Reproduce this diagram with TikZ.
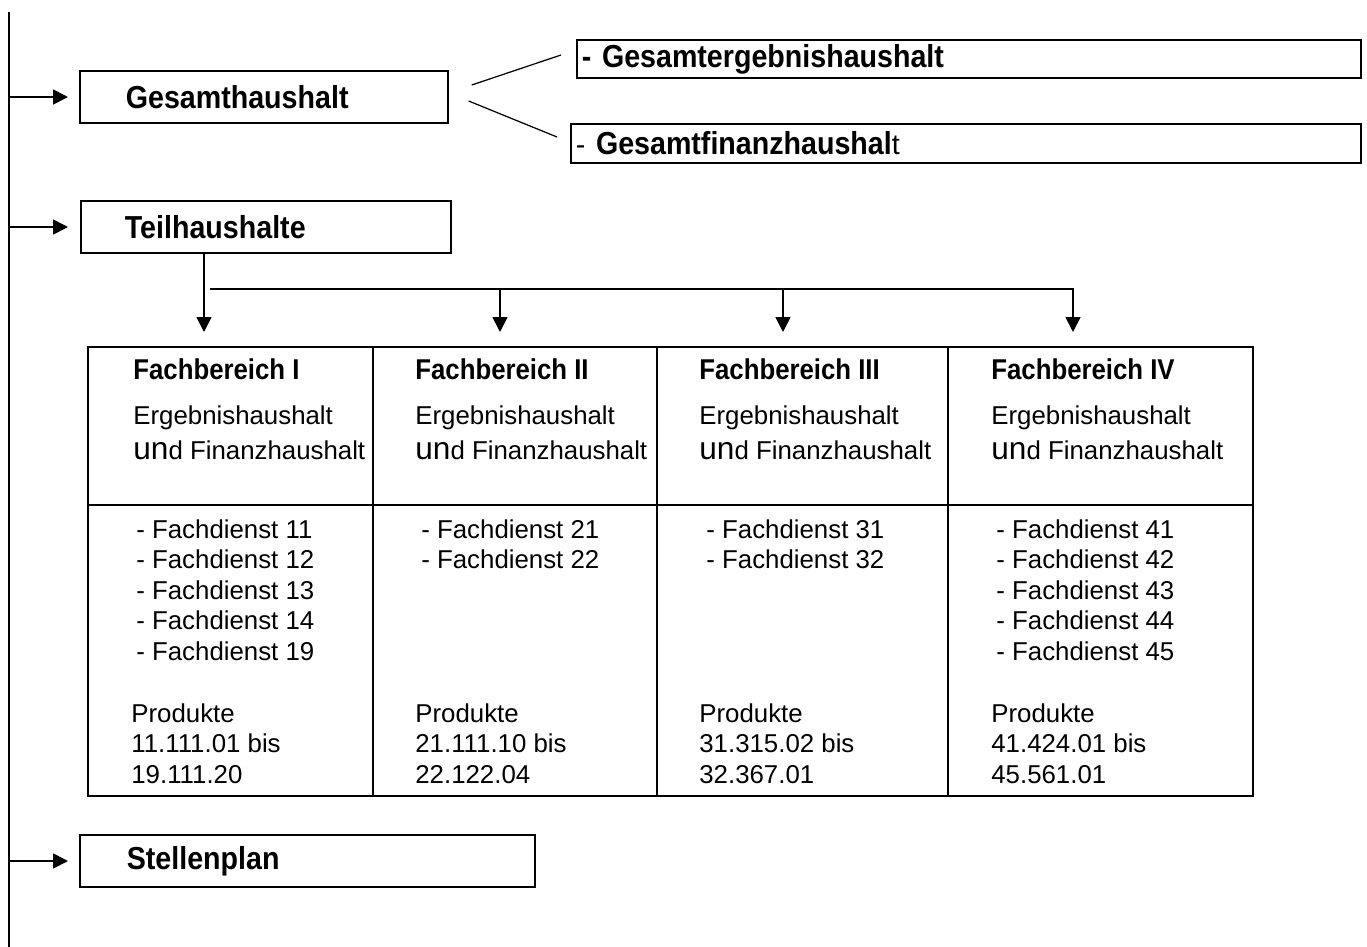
\documentclass[tikz,border=0pt]{standalone}
\usepackage{fontspec}
\setmainfont{Liberation Sans}[BoldFeatures={FakeStretch=0.9}]
\usetikzlibrary{arrows.meta}

\tikzset{
	kasten/.style={draw, line width=1pt, anchor=west, inner xsep=0pt, inner ysep=0pt, align=left, font=\bfseries\fontsize{18.1}{21}\selectfont},
	pfeil/.style={-{Triangle[length=0.3cm,width=0.3cm]}, line width=1pt},
	zelle/.style={anchor=base west, inner sep=0pt, align=left, font=\fontsize{14.7}{17.3}\selectfont},
}
\newcommand{\grossun}{{\fontsize{18}{17.3}\selectfont un}}

\begin{document}
\begin{tikzpicture}[x=0.02cm,y=-0.02cm]
	\useasboundingbox (0,0) rectangle (1367,947);
	
	% linke Leiste
	\coordinate (oben) at (9,12);
	\coordinate (unten) at (9,947);
	\draw[line width=1.1pt] (oben) -- (unten);
	
	% Kaesten
	\node[kasten, text width=7.36cm, minimum height=1.04cm] (gesamt) at (79,97) {\hspace*{0.92cm}Gesamthaushalt};
	\node[kasten, text width=7.4cm, minimum height=1.04cm] (teil) at (80,227) {\hspace*{0.88cm}Teilhaushalte};
	\node[kasten, text width=9.1cm, minimum height=1.04cm] (stellen) at (79,861) {\hspace*{0.94cm}Stellenplan};
	
	\node[kasten, text width=15.68cm, minimum height=0.76cm] (ergebnis) at (576,59) {\hspace*{0.1cm}- Gesamtergebnishaushalt};
	\node[kasten, text width=15.8cm, minimum height=0.78cm] (finanz) at (570,143.5) {\hspace*{0.1cm}{\mdseries\fontsize{16.3}{19}\selectfont -} Gesamtfinanzhaushal{\mdseries\fontsize{16.3}{19}\selectfont t}};
	
	\draw[pfeil] (gesamt.west -| oben) -- ([xshift=-0.22cm]gesamt.west);
	\draw[pfeil] (teil.west -| oben) -- ([xshift=-0.24cm]teil.west);
	\draw[pfeil] (stellen.west -| oben) -- ([xshift=-0.22cm]stellen.west);
	
	\draw[line width=0.7pt] ([shift={(23,-12)}]gesamt.east) -- ([shift={(-15,-4)}]ergebnis.west);
	\draw[line width=0.7pt] ([shift={(20,4)}]gesamt.east) -- ([shift={(-13,-6.5)}]finanz.west);
	
	% Verteilung auf die Fachbereiche
	\coordinate (fb1) at (204,332);
	\coordinate (fb2) at (500,332);
	\coordinate (fb3) at (783,332);
	\coordinate (fb4) at (1073,332);
	\coordinate (quer) at (210,289);
	\draw[pfeil] ([xshift=2.48cm]teil.south west) -- (fb1);
	\draw[pfeil] (quer) -| (fb4);
	\foreach \i in {2,3}
		\draw[pfeil] (quer -| fb\i) -- (fb\i);
	
	% Tabelle
	\draw[line width=0.6pt] (88,347) rectangle (1253,796);
	\foreach \x in {373,657,948}
		\draw[line width=0.6pt] (\x,347) -- (\x,796);
	\draw[line width=0.6pt] (88,505) -- (1253,505);
	
	% base = Grundlinie der letzten Zeile
	\foreach \x/\n/\r in {133/I/1,415/II/2,699/III/3,991/IV/4}{
		\node[zelle, font=\bfseries\fontsize{16.3}{19}\selectfont] (kopf\r) at (\x,379) {Fachbereich \n};
		\node[zelle, font=\fontsize{14.7}{19.8}\selectfont] (art\r) at (\x,459) {Ergebnishaushalt\\\grossun d Finanzhaushalt};
	}
	
	\node[zelle] (fd1) at (136,660) {- Fachdienst 11\\- Fachdienst 12\\- Fachdienst 13\\- Fachdienst 14\\- Fachdienst 19};
	\node[zelle] (fd2) at (421,568.5) {- Fachdienst 21\\- Fachdienst 22};
	\node[zelle] (fd3) at (706,568.5) {- Fachdienst 31\\- Fachdienst 32};
	\node[zelle] (fd4) at (996,660) {- Fachdienst 41\\- Fachdienst 42\\- Fachdienst 43\\- Fachdienst 44\\- Fachdienst 45};
	
	\node[zelle] (pr1) at (131,783) {Produkte\\11.111.01 bis\\19.111.20};
	\node[zelle] (pr2) at (415,783) {Produkte\\21.111.10 bis\\22.122.04};
	\node[zelle] (pr3) at (699,783) {Produkte\\31.315.02 bis\\32.367.01};
	\node[zelle] (pr4) at (991,783) {Produkte\\41.424.01 bis\\45.561.01};
\end{tikzpicture}
\end{document}
